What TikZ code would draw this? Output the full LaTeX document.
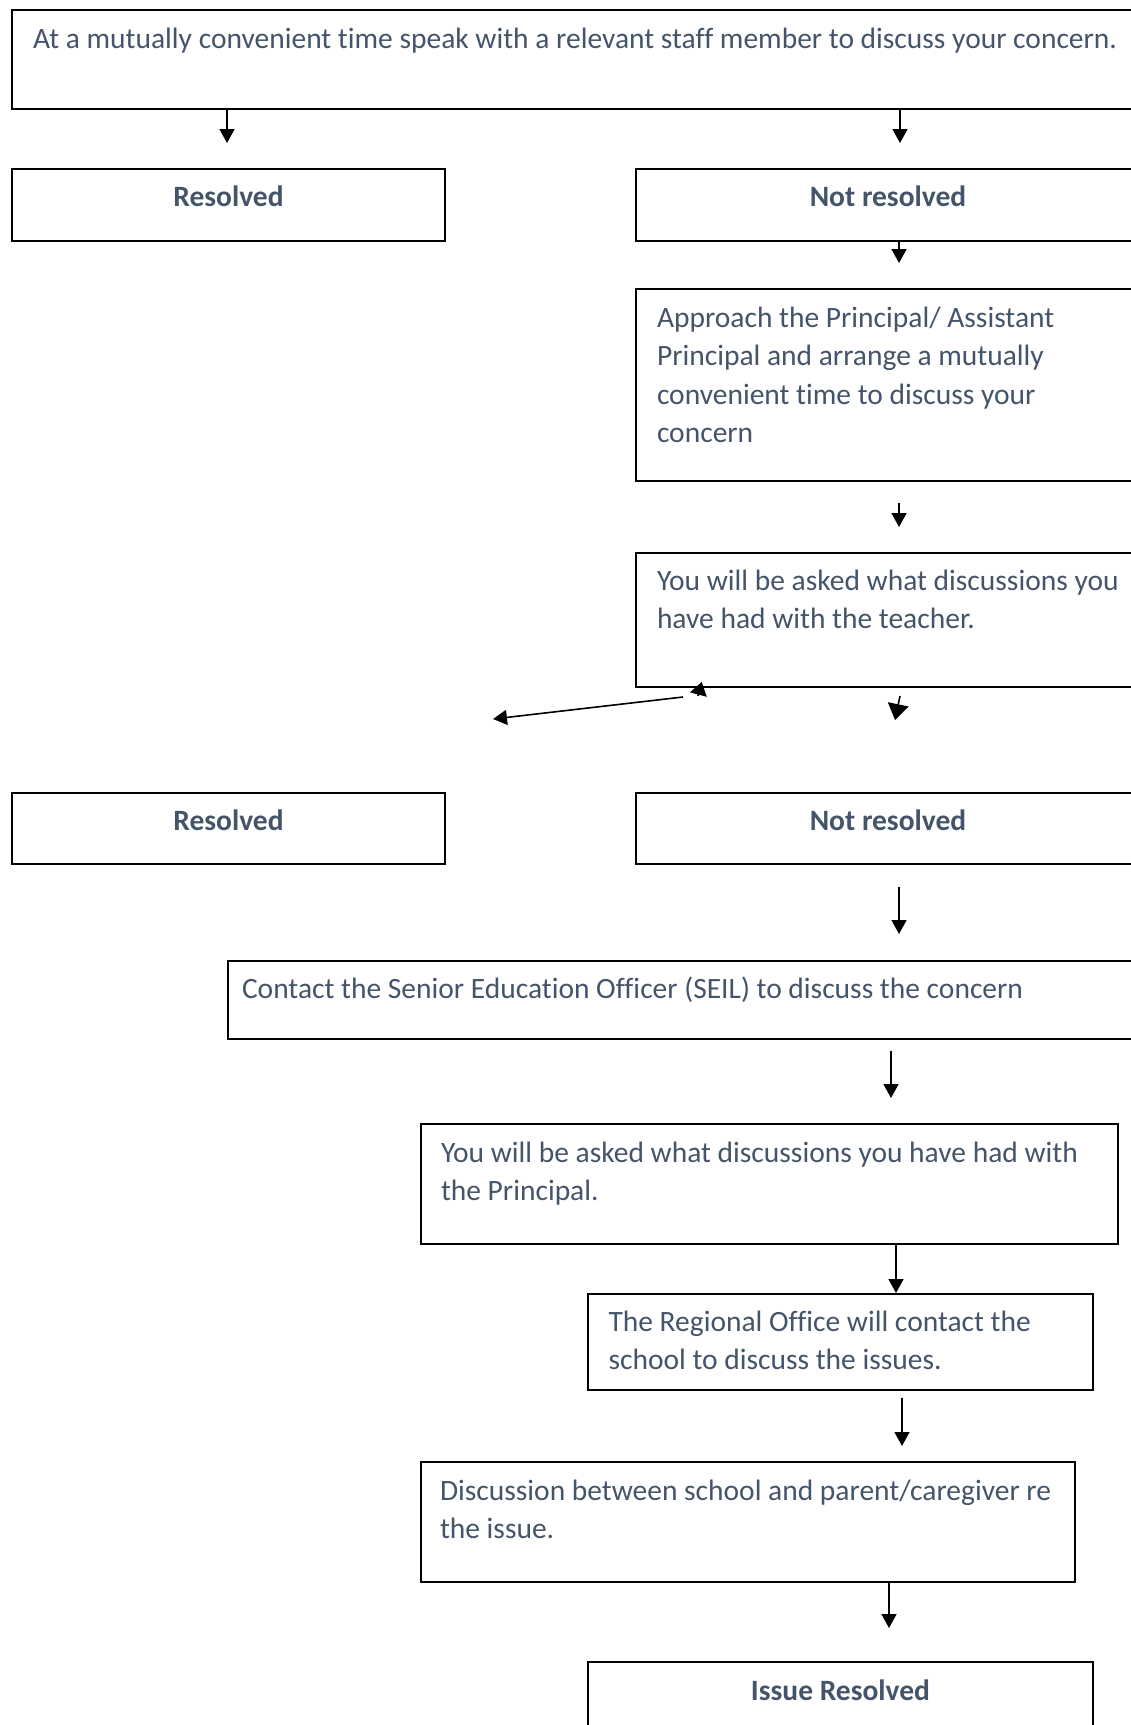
\documentclass[tikz,border=0pt]{standalone}
\usepackage{fontspec}
\setmainfont{Carlito}[Ligatures=NoCommon]
\usepackage{xcolor}
\usepackage{tikz}
\usetikzlibrary{arrows.meta, positioning}
\definecolor{slate}{HTML}{44546A}
\newcommand{\flowfont}{\fontsize{29.5pt}{38.3pt}\selectfont}

\begin{document}
\begin{tikzpicture}[x=1pt, y=-1pt]
\tikzstyle{stepbox} = [rectangle, draw, line width=2pt, anchor=north west, inner xsep=21pt, inner ysep=0pt, text height=38pt, align=flush left, text=slate, font=\flowfont]
\tikzstyle{outcome} = [stepbox, align=flush center, text height=37pt, font=\flowfont\bfseries]
\tikzstyle{arrow} = [line width=1.6pt, -{Triangle[length=14pt, width=15pt]}]

\clip (0,0) rectangle (1131,1725);

\node (start) [stepbox, text width=1098pt, text depth=61pt] at (11,9) {At a mutually convenient time speak with a relevant staff member to discuss your concern.};
\node (res1) [outcome, text width=391pt, text depth=35pt] at (11,168) {Resolved};
\node (nres1) [outcome, text width=462pt, text depth=35pt] at (635,168) {Not resolved};
\node (approach) [stepbox, text width=478pt, text height=38.5pt, text depth=153.5pt] at (635,288) {Approach the Principal/ Assistant\\Principal and arrange a mutually\\convenient time to discuss your\\concern};
\node (teacher) [stepbox, text width=478pt, text height=37.5pt, text depth=96.5pt] at (635,552) {You will be asked what discussions you\\have had with the teacher.};
\node (res2) [outcome, text width=391pt, text depth=34pt] at (11,792) {Resolved};
\node (nres2) [outcome, text width=462pt, text depth=34pt] at (635,792) {Not resolved};
\node (seil) [stepbox, inner xsep=14pt, text width=902pt, text height=38pt, text depth=40pt] at (227,959.5) {Contact the Senior Education Officer (SEIL) to discuss the concern};
\node (principal) [stepbox, inner xsep=20pt, text width=657pt, text height=38.5pt, text depth=81.5pt] at (420,1123) {You will be asked what discussions you have had with\\the Principal.};
\node (regional) [stepbox, inner xsep=20.5pt, text width=464pt, text height=37.5pt, text depth=58.5pt] at (587,1293) {The Regional Office will contact the\\school to discuss the issues.};
\node (meeting) [stepbox, inner xsep=19pt, text width=616pt, text height=38.5pt, text depth=81.5pt] at (420,1461) {Discussion between school and parent/caregiver re\\the issue.};
\node (done) [outcome, text width=463pt, text height=38.5pt, text depth=61pt] at (587,1661) {Issue Resolved};

% arrow ends
\coordinate (r1top) at (227,143);
\coordinate (n1top) at (900,143);
\coordinate (a1top) at (899,263);
\coordinate (a2bot) at (899,503);
\coordinate (a2top) at (899,527);
\coordinate (sideA) at (683,697);
\coordinate (sideB) at (493,719);
\coordinate (tipA) at (698,696);
\coordinate (tipB) at (701.7,682);
\coordinate (downA) at (900,696);
\coordinate (downB) at (895,720);
\coordinate (n2a) at (899,887);
\coordinate (n2b) at (899,934);
\coordinate (s1a) at (891,1050.7);
\coordinate (s1b) at (891,1098);
\coordinate (p1) at (896,1200);
\coordinate (g1a) at (902,1398);
\coordinate (g1b) at (902,1446);
\coordinate (m1) at (889,1628);

\draw [arrow] (start.south -| r1top) -- (r1top);
\draw [arrow] (start.south -| n1top) -- (n1top);
\draw [arrow] (nres1.south -| a1top) -- (a1top);
\draw [arrow] (a2bot) -- (a2top);
% stray marks under the teacher box
\draw [arrow] (sideA) -- (sideB);
\draw [line width=1.6pt, -{Triangle[length=13pt, width=17pt]}] (tipA) -- (tipB);
\draw [line width=1.6pt, -{Triangle[length=16pt, width=21pt]}] (downA) -- (downB);
\draw [arrow] (n2a) -- (n2b);
\draw [arrow] (s1a) -- (s1b);
\draw [arrow] (principal.south -| p1) -- (regional.north -| p1);
\draw [arrow] (g1a) -- (g1b);
\draw [arrow] (meeting.south -| m1) -- (m1);

\end{tikzpicture}
\end{document}
